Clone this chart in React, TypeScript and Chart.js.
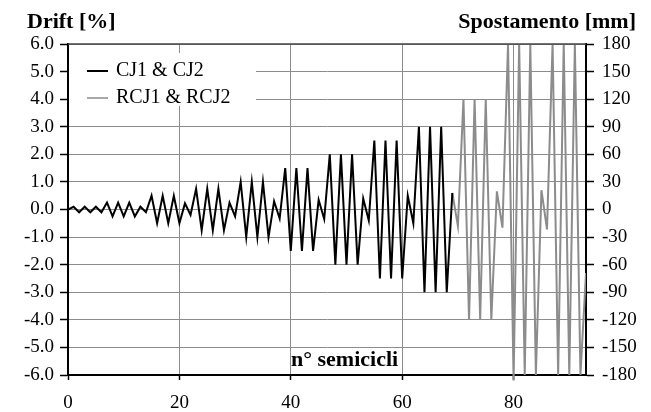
import React, { useEffect, useRef } from "react";
import { Chart, registerables } from "chart.js";

Chart.register(...registerables);

// ---- data (drift in %, one value per semicycle) ----
const cjStart = 0;
const cjDrift = [
  0,
  0.1, -0.1, 0.1, -0.1, 0.1, -0.1,
  0.25, -0.25, 0.25, -0.25, 0.25, -0.25,
  0.1, -0.1,
  0.5, -0.5, 0.5, -0.5, 0.5, -0.5,
  0.22, -0.2,
  0.75, -0.75, 0.75, -0.75, 0.75, -0.75,
  0.25, -0.25,
  1.0, -1.0, 1.0, -1.0, 1.0, -1.0,
  0.3, -0.33,
  1.5, -1.5, 1.5, -1.5, 1.5, -1.5,
  0.35, -0.35,
  2.0, -2.0, 2.0, -2.0, 2.0, -2.0,
  0.4, -0.4,
  2.5, -2.5, 2.5, -2.5, 2.5, -2.5,
  0.5, -0.5,
  3.0, -3.0, 3.0, -3.0, 3.0, -3.0,
  0.6,
];
const rcjStart = 69;
const rcjDrift = [
  0.6, -0.6,
  4.0, -4.0, 4.0, -4.0, 4.0, -4.0,
  0.66, -0.66,
  6.0, -6.2, 6.0, -6.0, 6.0, -6.0,
  0.7, -0.72,
  6.0, -6.0, 6.0, -6.0, 6.0, -6.0,
  -2.3,
];

const seriesNames = ["CJ1 & CJ2", "RCJ1 & RCJ2"];
const xTickValues = [0, 20, 40, 60, 80];
const xMin = 0;
const xMax = 93;
const driftMin = -6;
const driftMax = 6;
const driftStep = 1;
const mmMin = -180;
const mmMax = 180;
const mmStep = 30;
const leftTitle = "Drift [%]";
const rightTitle = "Spostamento [mm]";
const xTitle = "n° semicicli";

const FONT = "'Liberation Serif', 'Times New Roman', serif";
const CJ_COLOR = "#000000";
const RCJ_COLOR = "#8c8c8c";
const GRID = "#8c8c8c";

const toPoints = (start: number, vals: number[]) =>
  vals.map((v, i) => ({ x: start + i, y: v }));

const overlayPlugin = {
  id: "overlay",
  beforeDatasetsDraw(chart: any) {
    const { ctx, chartArea } = chart;
    ctx.save();
    // legend box (white, hides grid)
    const bx = chartArea.left + 1;
    const by = 53;
    ctx.fillStyle = "#ffffff";
    ctx.fillRect(bx, by, 256 - bx, 106 - by);
    ctx.lineWidth = 2;
    const items = [
      { y: 71, lc: "#000000" },
      { y: 98, lc: "#a8a8a8" },
    ];
    items.forEach((it, i) => {
      ctx.strokeStyle = it.lc;
      ctx.beginPath();
      ctx.moveTo(87, it.y);
      ctx.lineTo(108, it.y);
      ctx.stroke();
      ctx.fillStyle = "#000";
      ctx.font = `20px ${FONT}`;
      ctx.textAlign = "left";
      ctx.textBaseline = "middle";
      ctx.fillText(seriesNames[i], 116, it.y);
    });
    ctx.restore();
  },
  afterDraw(chart: any) {
    const { ctx, chartArea } = chart;
    ctx.save();
    // top border
    ctx.strokeStyle = "#444";
    ctx.lineWidth = 1.5;
    ctx.beginPath();
    ctx.moveTo(chartArea.left, chartArea.top);
    ctx.lineTo(chartArea.right, chartArea.top);
    ctx.stroke();
    ctx.fillStyle = "#000";
    ctx.font = `bold 22px ${FONT}`;
    ctx.textBaseline = "alphabetic";
    ctx.textAlign = "left";
    ctx.fillText(leftTitle, 27, 28);
    ctx.textAlign = "right";
    ctx.fillText(rightTitle, 636, 28);
    ctx.textAlign = "left";
    ctx.fillText(xTitle, 291, 366);
    ctx.restore();
  },
};

export default function App() {
  const ref = useRef<HTMLCanvasElement | null>(null);
  useEffect(() => {
    if (!ref.current) return;
    const tickFont = { family: FONT, size: 19 };
    const chart = new Chart(ref.current, {
      type: "line",
      data: {
        datasets: [
          {
            label: seriesNames[0],
            data: toPoints(cjStart, cjDrift),
            borderColor: CJ_COLOR,
            borderWidth: 2,
            pointRadius: 0,
            tension: 0,
            yAxisID: "y",
          },
          {
            label: seriesNames[1],
            data: toPoints(rcjStart, rcjDrift),
            borderColor: RCJ_COLOR,
            borderWidth: 2,
            pointRadius: 0,
            tension: 0,
            yAxisID: "y",
            clip: { left: 0, top: 0, right: 0, bottom: 6 } as any,
          },
        ],
      },
      options: {
        animation: false,
        responsive: false,
        maintainAspectRatio: false,
        layout: { padding: { top: 44, left: 0, right: 0, bottom: 0 } },
        plugins: { legend: { display: false }, tooltip: { enabled: false } },
        scales: {
          x: {
            type: "linear",
            min: xMin,
            max: xMax,
            afterBuildTicks: (s: any) => {
              s.ticks = xTickValues.map((v) => ({ value: v }));
            },
            afterFit: (s: any) => {
              s.height = 37;
            },
            grid: { color: GRID, lineWidth: 1, tickLength: 5, tickColor: "#000", tickWidth: 1.5 },
            border: { color: "#000", width: 2 },
            ticks: { font: tickFont, color: "#000", padding: 12, maxRotation: 0, autoSkip: false },
          },
          y: {
            type: "linear",
            position: "left",
            min: driftMin,
            max: driftMax,
            afterFit: (s: any) => {
              s.width = 68;
            },
            grid: { color: GRID, lineWidth: 1, tickLength: 8, tickColor: "#000", tickWidth: 1.5 },
            border: { color: "#000", width: 2 },
            ticks: {
              stepSize: driftStep,
              font: tickFont,
              color: "#000",
              padding: 6,
              callback: (v: any) => Number(v).toFixed(1),
            },
          },
          y2: {
            type: "linear",
            position: "right",
            min: mmMin,
            max: mmMax,
            afterFit: (s: any) => {
              s.width = 65;
            },
            grid: { drawOnChartArea: false, tickLength: 8, tickColor: "#000", tickWidth: 1.5 },
            border: { color: "#000", width: 2 },
            ticks: {
              stepSize: mmStep,
              font: tickFont,
              color: "#000",
              padding: 8,
              callback: (v: any) => String(v),
            },
          },
        },
      },
      plugins: [overlayPlugin],
    });
    return () => chart.destroy();
  }, []);
  return (
    <div style={{ position: "fixed", left: 0, top: 0, width: 651, height: 412, background: "#fff" }}>
      <canvas ref={ref} width={651} height={412} />
    </div>
  );
}
